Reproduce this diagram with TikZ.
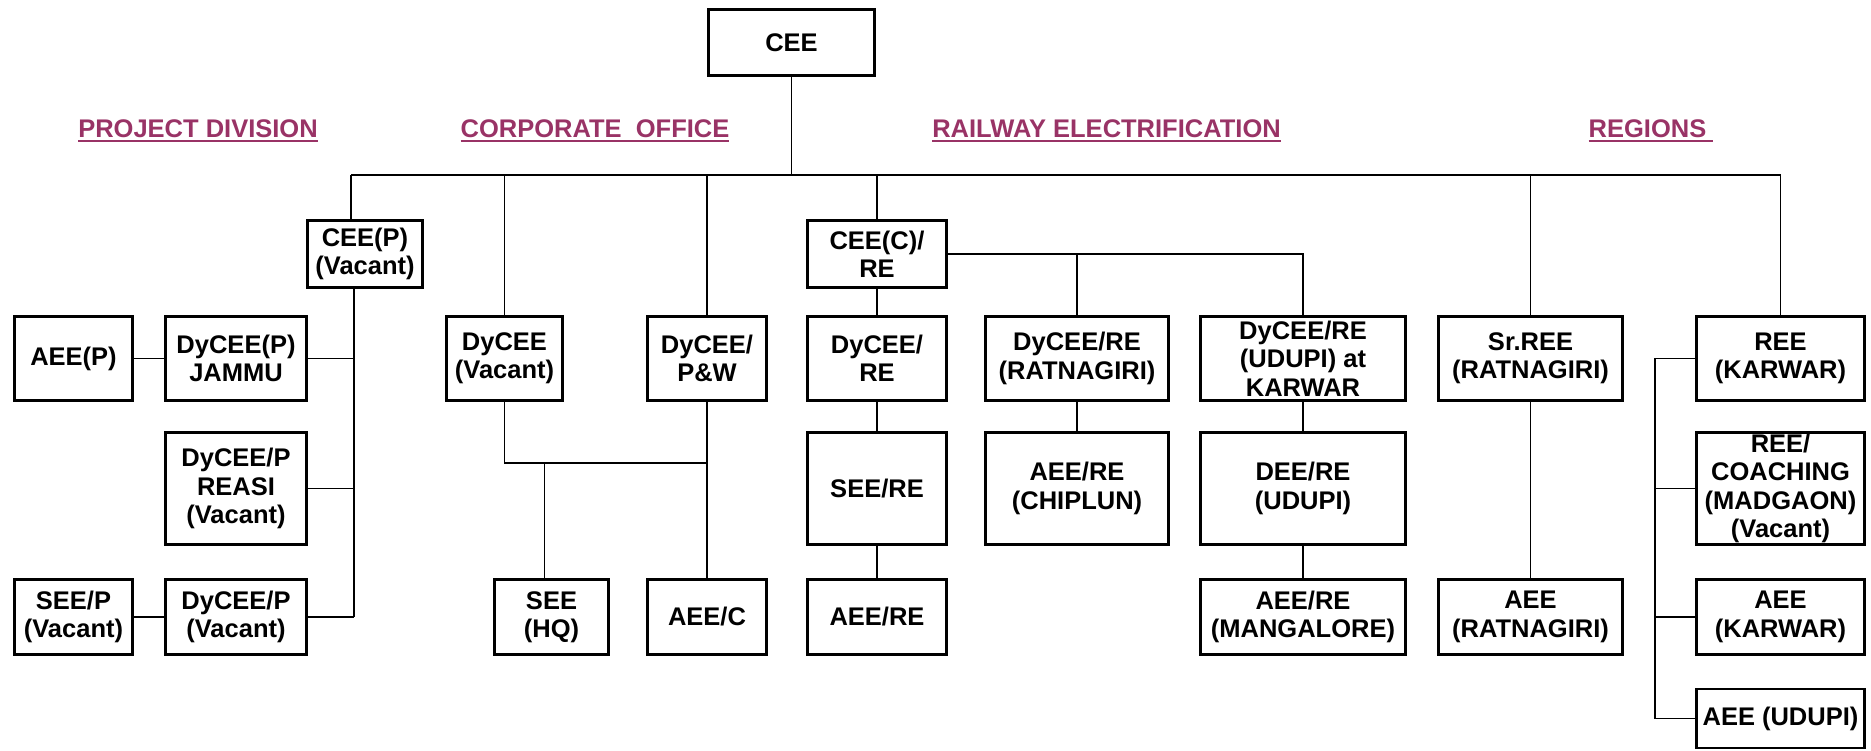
\documentclass[tikz,border=0pt]{standalone}
\usepackage{fontspec}
\setmainfont{Liberation Sans}
\usepackage{xcolor}
\definecolor{headcol}{RGB}{153,51,102}
% underlined heading text
\newcommand{\hdul}[1]{\setbox0\hbox{#1}\rlap{\rule[-4pt]{\wd0}{1.8pt}}\box0}
\tikzset{
  % Common styles for the chart
  line/.style={draw, line width=1.6pt},
  box/.style={draw, rectangle, line width=2.6pt, inner sep=0pt, align=center, minimum width=#1}
}

\begin{document}
\begin{tikzpicture}[
    x=1pt, y=-1pt,
    font=\fontsize{25.5}{28.3}\selectfont\bfseries,
    head/.style={text=headcol, anchor=base}
]
\useasboundingbox (0,0) rectangle (1871,751);

% Top
\node[box=166.5pt, minimum height=66.5pt] (cee) at (791.5,42.5) {CEE};

% Headings
\node[head] (projhead) at (198,138) {\hdul{PROJECT DIVISION}};
\node[head] (corphead) at (595,138) {\hdul{CORPORATE\ \ OFFICE}};
\node[head] (railhead) at (1106.5,138) {\hdul{RAILWAY ELECTRIFICATION}};
\node[head] (reghead) at (1651,138) {\hdul{REGIONS\ }};

% Second level
\node[box=115.5pt, minimum height=67.5pt] (ceep) at (365,254) {CEE(P)\\(Vacant)};
\node[box=139.5pt, minimum height=67.5pt] (ceec) at (877,254) {CEE(C)/\\RE};

% Third level
\node[box=118.5pt, minimum height=84.5pt] (aeep) at (73.5,358.5) {AEE(P)};
\node[box=141.5pt, minimum height=84.5pt] (jammu) at (236,358.5) {DyCEE(P)\\JAMMU};
\node[box=116.5pt, minimum height=84.5pt] (dycee) at (504.5,358.5) {DyCEE\\(Vacant)};
\node[box=119.5pt, minimum height=84.5pt] (dyceepw) at (707,358.5) {DyCEE/\\P\&W};
\node[box=139.5pt, minimum height=84.5pt] (dyceere) at (877,358.5) {DyCEE/\\RE};
\node[box=183.5pt, minimum height=84.5pt] (ratna) at (1077,358.5) {DyCEE/RE\\(RATNAGIRI)};
\node[box=205.5pt, minimum height=84.5pt] (karwar) at (1303,358.5) {DyCEE/RE\\(UDUPI) at\\KARWAR};
\node[box=184.5pt, minimum height=84.5pt] (srree) at (1530.5,358.5) {Sr.REE\\(RATNAGIRI)};
\node[box=168.5pt, minimum height=84.5pt] (ree) at (1780.5,358.5) {REE\\(KARWAR)};

% Fourth level
\node[box=141.5pt, minimum height=112.5pt] (reasi) at (236,488.5) {DyCEE/P\\REASI\\(Vacant)};
\node[box=139.5pt, minimum height=112.5pt] (seere) at (877,488.5) {SEE/RE};
\node[box=183.5pt, minimum height=112.5pt] (chiplun) at (1077,488.5) {AEE/RE\\(CHIPLUN)};
\node[box=205.5pt, minimum height=112.5pt] (deere) at (1303,488.5) {DEE/RE\\(UDUPI)};
\node[box=168.5pt, minimum height=112.5pt] (coaching) at (1780.5,488.5) {REE/\\COACHING\\(MADGAON)\\(Vacant)};

% Fifth level
\node[box=118.5pt, minimum height=75.5pt] (seep) at (73.5,617) {SEE/P\\(Vacant)};
\node[box=141.5pt, minimum height=75.5pt] (dyceepv) at (236,617) {DyCEE/P\\(Vacant)};
\node[box=114.5pt, minimum height=75.5pt] (seehq) at (551.5,617) {SEE\\(HQ)};
\node[box=119.5pt, minimum height=75.5pt] (aeec) at (707,617) {AEE/C};
\node[box=139.5pt, minimum height=75.5pt] (aeere) at (877,617) {AEE/RE};
\node[box=205.5pt, minimum height=75.5pt] (mangalore) at (1303,617) {AEE/RE\\(MANGALORE)};
\node[box=184.5pt, minimum height=75.5pt] (aeeratna) at (1530.5,617) {AEE\\(RATNAGIRI)};
\node[box=168.5pt, minimum height=75.5pt] (aeekarwar) at (1780.5,617) {AEE\\(KARWAR)};
\node[box=168.5pt, minimum height=59pt] (aeeudupi) at (1780.5,718.5) {AEE (UDUPI)};

% Main bus
\coordinate (bus) at (792,175);
\coordinate (ceepdrop) at ([xshift=-14pt]ceep.north);
\draw[line] (cee.south) -- (cee.south |- bus);
\draw[line] (ceepdrop |- bus) -- (ree.north |- bus);
\draw[line] (ceepdrop |- bus) -- (ceepdrop);
\foreach \n in {dycee, dyceepw, ceec, srree, ree}
  \draw[line] (\n.north |- bus) -- (\n.north);

% Project division
\coordinate (pspine) at ([xshift=-11pt]ceep.south);
\draw[line] (pspine) -- (pspine |- dyceepv.east);
\foreach \n in {jammu, reasi, dyceepv}
  \draw[line] (\n.east) -- (\n.east -| pspine);
\draw[line] (aeep) -- (jammu);
\draw[line] (seep) -- (dyceepv);

% Corporate office
\coordinate (cbar) at (600,463);
\draw[line] (dycee.south) -- (dycee.south |- cbar) -- (dyceepw.south |- cbar);
\draw[line] (dyceepw) -- (aeec);
\draw[line] ([xshift=-7pt]seehq.north |- cbar) -- ([xshift=-7pt]seehq.north);

% Railway electrification
\draw[line] (ceec) -- (dyceere);
\draw[line] (dyceere) -- (seere);
\draw[line] (seere) -- (aeere);
\draw[line] (ceec.east) -| (karwar.north);
\draw[line] (ratna.north |- ceec.east) -- (ratna.north);
\draw[line] (ratna) -- (chiplun);
\draw[line] (karwar) -- (deere);
\draw[line] (deere) -- (mangalore);

% Regions
\draw[line] (srree) -- (aeeratna);
\coordinate (rspine) at ([xshift=-40pt]ree.west);
\draw[line] (ree.west) -- (rspine) -- (rspine |- aeeudupi.west) -- (aeeudupi.west);
\foreach \n in {coaching, aeekarwar}
  \draw[line] (\n.west) -- (\n.west -| rspine);

\end{tikzpicture}
\end{document}
